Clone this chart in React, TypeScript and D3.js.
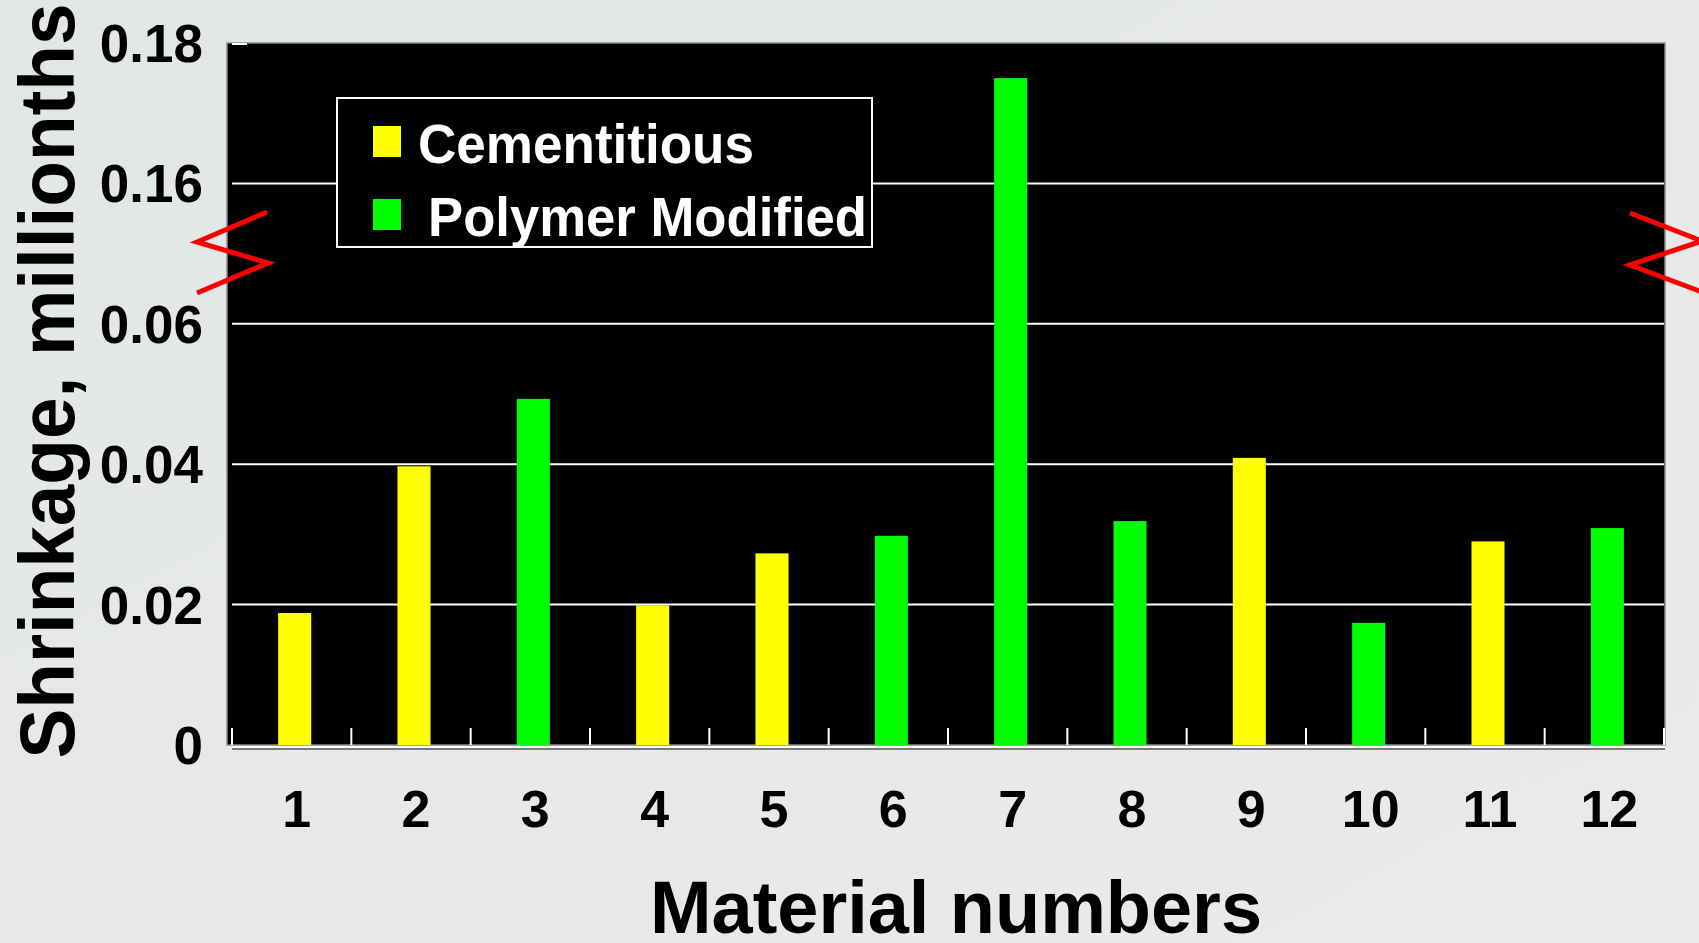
import React from 'react';
import * as d3 from 'd3';

const materials = ['1', '2', '3', '4', '5', '6', '7', '8', '9', '10', '11', '12'];
const shrinkage = [0.0188, 0.0397, 0.0493, 0.0199, 0.0273, 0.0298, 0.175, 0.0319, 0.0409, 0.0174, 0.029, 0.0309];
const materialType = ['Cementitious', 'Cementitious', 'Polymer Modified', 'Cementitious', 'Cementitious', 'Polymer Modified', 'Polymer Modified', 'Polymer Modified', 'Cementitious', 'Polymer Modified', 'Cementitious', 'Polymer Modified'];
const seriesNames = ['Cementitious', 'Polymer Modified'];
const seriesColors = ['#ffff00', '#00ff00'];
const yTicks = [0, 0.02, 0.04, 0.06, 0.16, 0.18];
const yTickLabels = ['0', '0.02', '0.04', '0.06', '0.16', '0.18'];

const W = 1699;
const H = 943;
const FONT = '"Liberation Sans", Arial, Helvetica, sans-serif';

export default function App() {
  const plotLeft = 227;
  const plotRight = 1665;
  const plotTop = 43;
  const plotBottom = 745;

  const x = d3.scaleBand<string>().domain(materials).range([235, 1667]).paddingInner(0.723).paddingOuter(0.3615);
  const xTick = d3.scaleLinear().domain([0, materials.length]).range([232, 1664]);
  // broken axis: 0..0.06 and 0.16..0.18 displayed with equal steps
  const y = d3.scaleLinear().domain([0, 0.06, 0.16, 0.18]).range([plotBottom, 323.8, 183.4, plotTop]);
  const color = d3.scaleOrdinal<string, string>().domain(seriesNames).range(seriesColors);

  const tickXs = d3.range(materials.length + 1).map((i) => xTick(i));

  const leftBreak = [[267, 212], [197, 242], [268, 263], [197, 293]];
  const rightBreak = [[1630, 213], [1702, 241], [1630, 265], [1702, 292]];
  const line = d3.line();

  return (
    <svg width={W} height={H} style={{ position: 'absolute', left: 0, top: 0, display: 'block' }} fontFamily={FONT}>
      <defs>
        <linearGradient id="bg" x1="0" y1="0" x2="1" y2="1">
          <stop offset="0" stopColor="#e2e6e4" />
          <stop offset="0.5" stopColor="#e6e9e7" />
          <stop offset="1" stopColor="#e9ebe9" />
        </linearGradient>
      </defs>
      <rect x={0} y={0} width={W} height={H} fill="url(#bg)" />

      {/* plot background */}
      <rect x={plotLeft} y={plotTop} width={plotRight - plotLeft} height={plotBottom - plotTop} fill="#000" stroke="#8a8a8a" strokeWidth={1.5} />

      {/* gridlines */}
      {yTicks.filter((t) => t > 0 && t < 0.18).map((t) => (
        <line key={t} x1={232} x2={plotRight - 1} y1={y(t)} y2={y(t)} stroke="#fff" strokeWidth={2} />
      ))}
      <line x1={232} x2={247} y1={plotTop + 1} y2={plotTop + 1} stroke="#fff" strokeWidth={2} />

      {/* x ticks */}
      {tickXs.map((tx, i) => (
        <line key={i} x1={tx} x2={tx} y1={plotBottom} y2={plotBottom - 17} stroke="#fff" strokeWidth={2} />
      ))}

      {/* bars */}
      {materials.map((m, i) => (
        <rect
          key={m}
          x={x(m)}
          y={y(shrinkage[i])}
          width={x.bandwidth()}
          height={y(0) - y(shrinkage[i])}
          fill={color(materialType[i])}
        />
      ))}

      {/* x axis line */}
      <line x1={232} x2={plotRight} y1={plotBottom + 2} y2={plotBottom + 2} stroke="#fff" strokeWidth={2} />
      <line x1={232} x2={plotRight} y1={plotBottom + 4} y2={plotBottom + 4} stroke="#555" strokeWidth={1.5} />

      {/* legend */}
      <rect x={337} y={98} width={535} height={149} fill="#000" stroke="#fff" strokeWidth={2} />
      {seriesNames.map((s, i) => (
        <g key={s}>
          <rect x={373} y={126 + i * 73} width={28} height={31} fill={seriesColors[i]} />
          <text
            x={i === 0 ? 418 : 428}
            y={163 + i * 73}
            fill="#fff"
            fontSize={55}
            fontWeight="bold"
            textLength={i === 0 ? 336 : 439}
            lengthAdjust="spacingAndGlyphs"
          >
            {s}
          </text>
        </g>
      ))}

      {/* y tick labels */}
      {yTicks.map((t, i) => (
        <text key={t} x={203} y={y(t) + 19} textAnchor="end" fontSize={53} fontWeight="bold" fill="#000">
          {yTickLabels[i]}
        </text>
      ))}

      {/* x tick labels */}
      {materials.map((m) => (
        <text key={m} x={(x(m) as number) + x.bandwidth() / 2 + 2} y={827} textAnchor="middle" fontSize={52} fontWeight="bold" fill="#000">
          {m}
        </text>
      ))}

      {/* axis titles */}
      <text
        transform={`translate(74, 381) rotate(-90)`}
        textAnchor="middle"
        fontSize={78}
        fontWeight="bold"
        fill="#000"
        textLength={755}
        lengthAdjust="spacingAndGlyphs"
      >
        Shrinkage, millionths
      </text>
      <text x={956} y={933} textAnchor="middle" fontSize={74} fontWeight="bold" fill="#000" textLength={612} lengthAdjust="spacingAndGlyphs">
        Material numbers
      </text>

      {/* axis break marks */}
      <path d={line(leftBreak as [number, number][]) as string} fill="none" stroke="#ff0000" strokeWidth={5} />
      <path d={line(rightBreak as [number, number][]) as string} fill="none" stroke="#ff0000" strokeWidth={5} />
    </svg>
  );
}
